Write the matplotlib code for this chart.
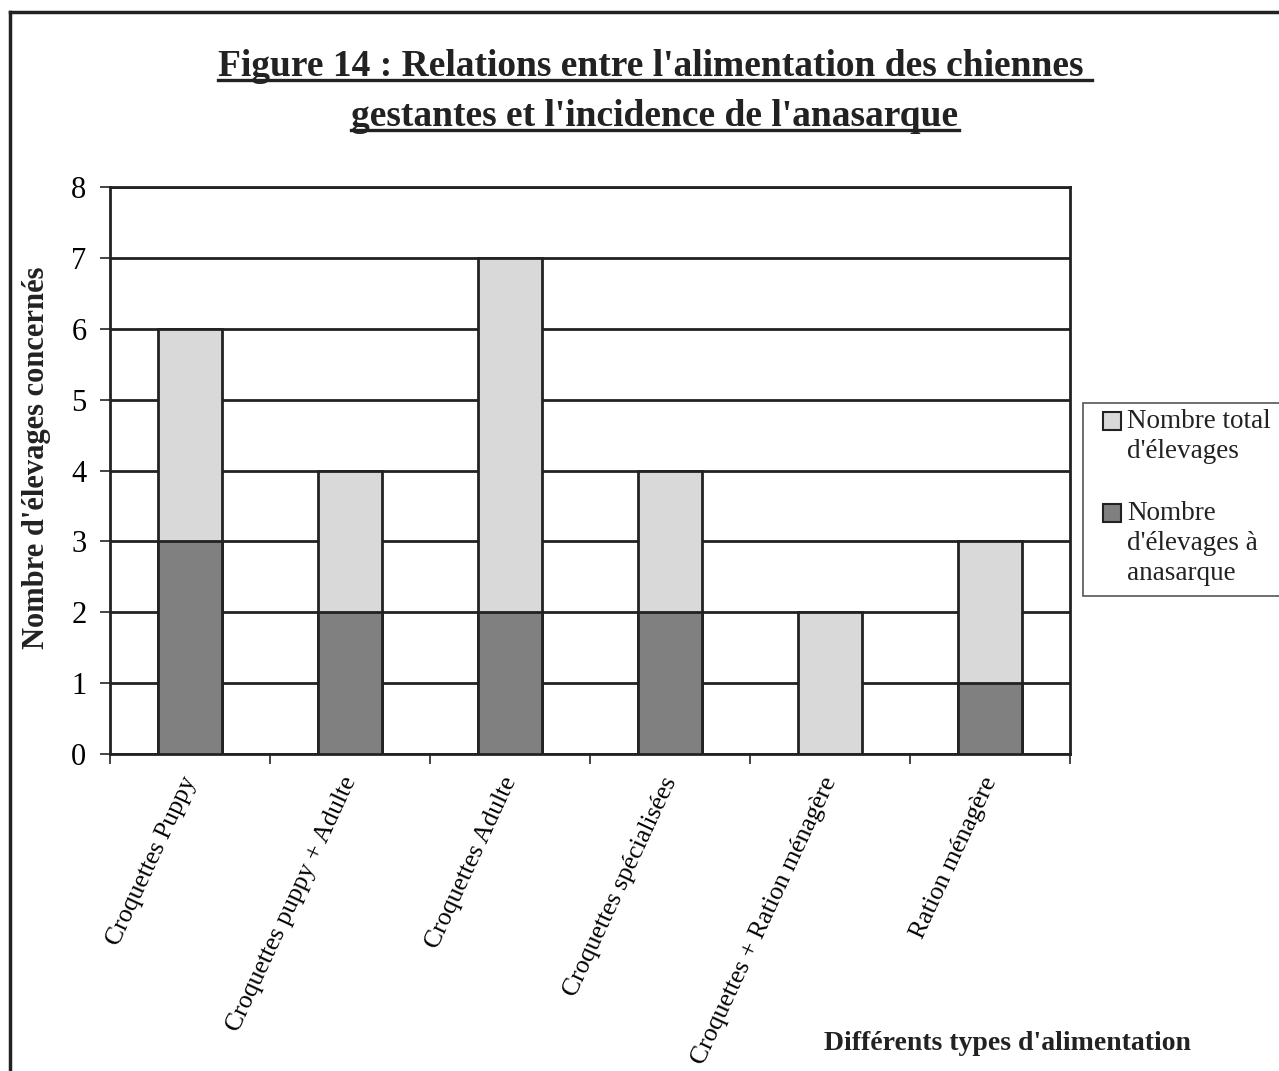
import numpy as np
import matplotlib.pyplot as plt
import matplotlib.transforms as mtransforms
from matplotlib.lines import Line2D
from matplotlib.patches import Rectangle

plt.rcParams['font.family'] = ['Liberation Serif', 'DejaVu Serif']

categories = ['Croquettes Puppy', 'Croquettes puppy + Adulte', 'Croquettes Adulte',
              'Croquettes spécialisées', 'Croquettes + Ration ménagère', 'Ration ménagère']
total = [6, 4, 7, 4, 2, 3]
anasarque = [3, 2, 2, 2, 0, 1]
legend_labels = ["Nombre total\nd'élevages", "Nombre\nd'élevages à\nanasarque"]

light = '#d9d9d9'
dark = '#808080'
ink = '#222222'

W, H = 1279, 1071
fig = plt.figure(figsize=(W / 100, H / 100), dpi=100)
ax = fig.add_axes([110 / W, 1 - 754 / H, (1070 - 110) / W, (754 - 187) / H])


def px(x, y):
    # pixel position (from top-left) -> figure fraction
    return x / W, 1 - y / H


x = np.arange(len(categories)) + 0.5
ax.bar(x, total, width=0.4, color=light, edgecolor=ink, linewidth=2, zorder=3)
ax.bar(x, anasarque, width=0.4, color=dark, edgecolor=ink, linewidth=2, zorder=4)

ax.set_xlim(0, len(categories))
ax.set_ylim(0, 8)
ax.set_yticks(range(0, 9))
ax.yaxis.grid(True, color=ink, linewidth=2)
ax.set_axisbelow(True)
for s in ax.spines.values():
    s.set_linewidth(2)
    s.set_color(ink)

ax.set_xticks(range(0, len(categories) + 1))
ax.set_xticklabels([])
ax.set_xticks(x, minor=True)
ax.set_xticklabels(categories, minor=True, rotation=65, ha='right', va='top',
                   rotation_mode='anchor', fontsize=18.5)
ax.tick_params(axis='x', which='minor', length=0, pad=14)
ax.tick_params(axis='both', which='major', length=7, width=1.2, color=ink,
               direction='out', labelsize=22, pad=10)
shift = mtransforms.ScaledTranslation(-9 / 100, 0, fig.dpi_scale_trans)
for lab in ax.get_xticklabels(minor=True):
    lab.set_transform(lab.get_transform() + shift)

fig.text(*px(37, 458), "Nombre d'élevages concernés", fontsize=22, fontweight='bold',
         rotation=90, ha='center', va='center', color=ink)
fig.text(*px(1007, 1043), "Différents types d'alimentation",
         fontsize=20, fontweight='bold', ha='center', va='center', color=ink)

# title, two underlined lines
title_lines = ["Figure 14 : Relations entre l'alimentation des chiennes ",
               "gestantes et l'incidence de l'anasarque"]
title_y = [66, 116]
fig.canvas.draw()
renderer = fig.canvas.get_renderer()
for txt, yy in zip(title_lines, title_y):
    t = fig.text(*px(655, yy), txt, fontsize=27, fontweight='bold',
                 ha='center', va='center', color=ink)
    bb = t.get_window_extent(renderer=renderer)
    uy = (bb.y0 + 4) / H
    fig.add_artist(Line2D([bb.x0 / W, bb.x1 / W], [uy, uy], color=ink,
                          linewidth=2.4, transform=fig.transFigure))

# outer frame
fig.add_artist(Line2D([10 / W, 10 / W], [0, 1 - 12 / H], color=ink,
                      linewidth=2.5, transform=fig.transFigure))
fig.add_artist(Line2D([10 / W, 1], [1 - 12 / H, 1 - 12 / H], color=ink,
                      linewidth=2.5, transform=fig.transFigure))

# legend box, handle squares sit on the first line of each label
bx0, by0, by1 = 1083, 403, 596
fig.add_artist(Rectangle(px(bx0, by1), (W + 20 - bx0) / W, (by1 - by0) / H,
                         transform=fig.transFigure, facecolor='white',
                         edgecolor='#555555', linewidth=1.2))
for color, label, ty in zip([light, dark], legend_labels, [430, 522]):
    fig.add_artist(Rectangle(px(1103, ty), 18 / W, 18 / H,
                             transform=fig.transFigure, facecolor=color,
                             edgecolor=ink, linewidth=1.5))
    fig.text(*px(1127, ty - 21), label, fontsize=19.5, ha='left', va='top',
             color=ink, linespacing=1.25)

fig.savefig('out.png', dpi=100)
